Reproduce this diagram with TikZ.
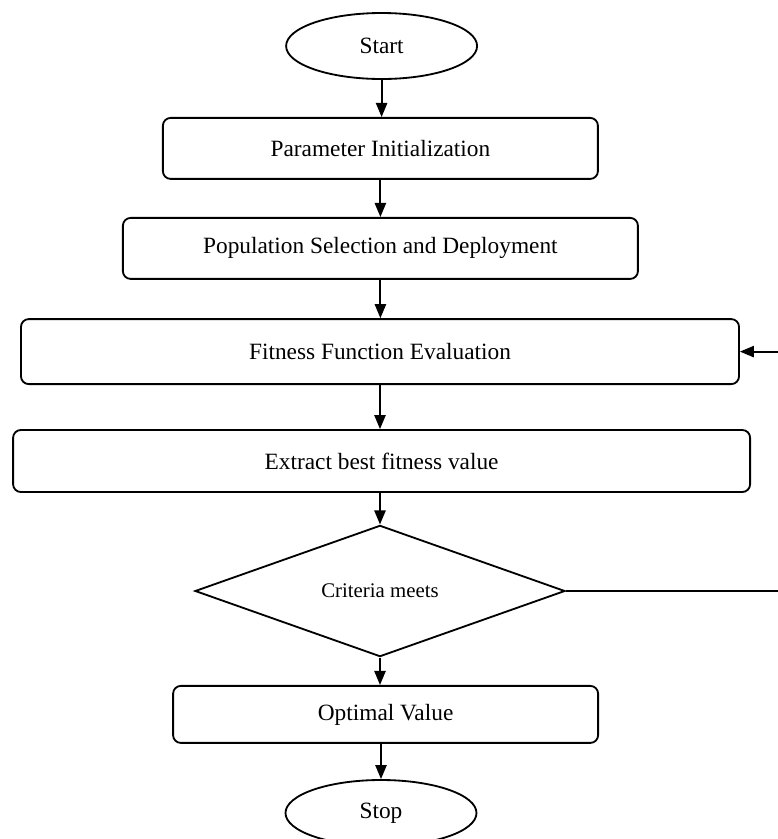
\documentclass[tikz,border=0pt]{standalone}
\usepackage{fontspec}
\setmainfont{Liberation Serif}
\usetikzlibrary{arrows.meta, shapes.geometric}

\begin{document}
\begin{tikzpicture}[
  >={Triangle[length=10pt, width=8pt]},
  stepbox/.style={
    draw=black, line width=1.3pt, fill=white, rounded corners=5.5pt,
    minimum height=#1, font=\fontsize{16.6}{20}\selectfont,
    align=center, inner sep=4pt
  },
  termnode/.style={
    draw=black, line width=1.3pt, fill=white, ellipse,
    minimum width=4.775cm, minimum height=1.65cm, inner sep=0pt,
    font=\fontsize{16.6}{20}\selectfont
  },
  decbox/.style={
    draw=black, line width=1.3pt, fill=white, diamond,
    minimum width=9.25cm, minimum height=2.85cm, inner sep=0pt,
    font=\fontsize{14.8}{18}\selectfont
  },
  arr/.style={->, line width=1.3pt, black},
]

% Frame of the page
\useasboundingbox (0,0) rectangle (19.45,-20.975);

% =============================================
% Flow chart
% =============================================
\node[termnode] (start) at (9.54,-1.15) {Start};

\node[stepbox=1.525cm, minimum width=10.875cm] (init) at (9.51,-3.71)
  {Parameter Initialization};

\node[stepbox=1.525cm, minimum width=12.875cm] (popsel) at (9.51,-6.21)
  {Population Selection and Deployment};

\node[stepbox=1.625cm, minimum width=17.95cm] (fitness) at (9.5,-8.79)
  {Fitness Function Evaluation};

\node[stepbox=1.55cm, minimum width=18.425cm] (extract) at (9.54,-11.525)
  {Extract best fitness value};

\node[decbox] (crit) at (9.5,-14.775) {Criteria meets};

\node[stepbox=1.425cm, minimum width=10.625cm] (optval) at (9.64,-17.86)
  {Optimal Value};

\node[termnode] (stop) at (9.525,-20.325) {Stop};

% Arrows down
\draw[arr] (start.south) -- (start.south |- init.north);
\draw[arr] (init.south) -- (init.south |- popsel.north);
\draw[arr] (popsel.south) -- (popsel.south |- fitness.north);
\draw[arr] (fitness.south) -- (fitness.south |- extract.north);
\draw[arr] (crit.north |- extract.south) -- (crit.north);
\draw[arr] (crit.south) -- (crit.south |- optval.north);
\draw[arr] (stop.north |- optval.south) -- (stop.north);

% Loop back to fitness evaluation
\coordinate (loopc) at (19.475,-14.775);
\draw[arr] (crit.east) -- (loopc) |- (fitness.east);

\end{tikzpicture}
\end{document}
